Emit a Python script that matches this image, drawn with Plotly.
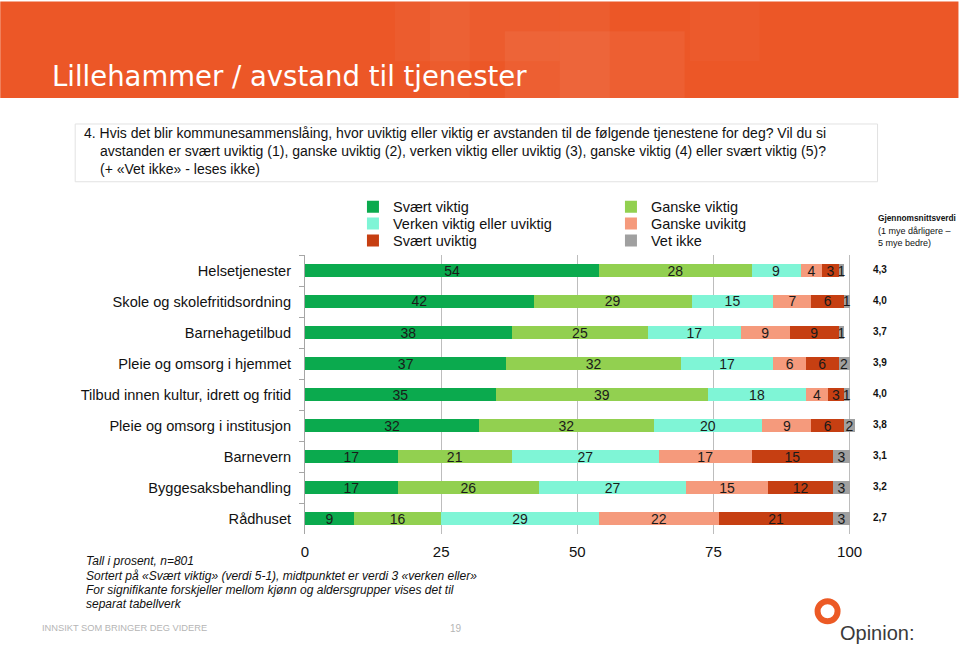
import plotly.graph_objects as go

categories = [
    "Helsetjenester",
    "Skole og skolefritidsordning",
    "Barnehagetilbud",
    "Pleie og omsorg i hjemmet",
    "Tilbud innen kultur, idrett og fritid",
    "Pleie og omsorg i institusjon",
    "Barnevern",
    "Byggesaksbehandling",
    "Rådhuset",
]
series_names = ["Svært viktig", "Ganske viktig", "Verken viktig eller uviktig",
                "Ganske uvikitg", "Svært uviktig", "Vet ikke"]
svaert_viktig = [54, 42, 38, 37, 35, 32, 17, 17, 9]
ganske_viktig = [28, 29, 25, 32, 39, 32, 21, 26, 16]
verken = [9, 15, 17, 17, 18, 20, 27, 27, 29]
ganske_uviktig = [4, 7, 9, 6, 4, 9, 17, 15, 22]
svaert_uviktig = [3, 6, 9, 6, 3, 6, 15, 12, 21]
vet_ikke = [1, 1, 1, 2, 1, 2, 3, 3, 3]
averages = ["4,3", "4,0", "3,7", "3,9", "4,0", "3,8", "3,1", "3,2", "2,7"]
x_ticks = [0, 25, 50, 75, 100]

colors = ["#0BAA4E", "#92D050", "#7FF5D6", "#F59A7C", "#C63F12", "#A0A0A0"]
series = [svaert_viktig, ganske_viktig, verken, ganske_uviktig, svaert_uviktig, vet_ikke]
legend_ids = ["legend", "legend", "legend2", "legend2", "legend3", "legend3"]

W, H = 959, 647
PL, PR100, PT, PB = 305, 850, 254.5, 534.5
XMAX = max(sum(v) for v in zip(*series))          # 101: lets the overflowing bar show
PR = PL + (PR100 - PL) * XMAX / 100.0


def px(x):
    return (x - PL) / (PR - PL)


def py(y):
    return (PB - y) / (PB - PT)


fig = go.Figure()
for name, vals, col, lg in zip(series_names, series, colors, legend_ids):
    fig.add_trace(go.Bar(
        y=categories, x=vals, name=name, orientation="h", legend=lg,
        marker=dict(color=col, line=dict(width=0)),
        text=[str(v) for v in vals], textposition="inside", textangle=0,
        insidetextanchor="middle",
        textfont=dict(family="Liberation Sans, Arial", size=14, color="#1a1a1a"),
        cliponaxis=False,
    ))

shapes = []
shapes.append(dict(type="rect", xref="paper", yref="paper",
                   x0=px(0), x1=px(W), y0=py(97), y1=py(0),
                   fillcolor="#EC5727", line=dict(width=0), layer="below"))
for (x0, x1, y0, y1, a) in [(395, 560, 0, 60, 0.035), (430, 470, 0, 97, 0.03),
                            (505, 685, 30, 97, 0.05), (560, 610, 0, 97, 0.04),
                            (690, 760, 0, 60, 0.025)]:
    shapes.append(dict(type="rect", xref="paper", yref="paper",
                       x0=px(x0), x1=px(x1), y0=py(y1), y1=py(y0),
                       fillcolor=f"rgba(255,255,255,{a})", line=dict(width=0), layer="below"))
shapes.append(dict(type="rect", xref="paper", yref="paper",
                   x0=px(75), x1=px(878), y0=py(181), y1=py(123),
                   fillcolor="white", line=dict(color="#E2E2E2", width=1), layer="below"))
shapes.append(dict(type="circle", xref="paper", yref="paper",
                   x0=px(818), x1=px(838), y0=py(622), y1=py(602),
                   line=dict(color="#EC5A25", width=6)))

annotations = []
annotations.append(dict(text="Lillehammer / avstand til tjenester", x=px(50), y=py(75),
                        xref="paper", yref="paper", xanchor="left", yanchor="middle",
                        showarrow=False,
                        font=dict(family="DejaVu Sans", size=27.5, color="white")))
qfont = dict(family="Liberation Sans Narrow, Arial Narrow, Liberation Sans", size=14, color="#111")
qlines = [
    ("4. Hvis det blir kommunesammenslåing, hvor uviktig eller viktig er avstanden til de følgende tjenestene for deg? Vil du si", 82, 132),
    ("avstanden er svært uviktig (1), ganske uviktig (2), verken viktig eller uviktig (3), ganske viktig (4) eller svært viktig (5)?", 98, 150),
    ("(+ «Vet ikke» - leses ikke)", 98, 168),
]
for t, x, y in qlines:
    annotations.append(dict(text=t, x=px(x), y=py(y), xref="paper", yref="paper",
                            xanchor="left", yanchor="middle", showarrow=False, font=qfont))
annotations.append(dict(text="<b>Gjennomsnittsverdi</b>", x=px(876), y=py(217), xref="paper", yref="paper",
                        xanchor="left", yanchor="middle", showarrow=False,
                        font=dict(family="Liberation Sans, Arial", size=8.3, color="#111")))
annotations.append(dict(text="(1 mye dårligere –", x=px(876), y=py(230), xref="paper", yref="paper",
                        xanchor="left", yanchor="middle", showarrow=False,
                        font=dict(family="Liberation Sans, Arial", size=9, color="#111")))
annotations.append(dict(text="5 mye bedre)", x=px(876), y=py(242), xref="paper", yref="paper",
                        xanchor="left", yanchor="middle", showarrow=False,
                        font=dict(family="Liberation Sans, Arial", size=9, color="#111")))
for cat, avg in zip(categories, averages):
    annotations.append(dict(text=f"<b>{avg}</b>", x=px(871), y=cat, xref="paper", yref="y",
                            xanchor="left", yanchor="middle", yshift=1, showarrow=False,
                            font=dict(family="Liberation Sans, Arial", size=10, color="#111")))
notes = [
    ("Tall i prosent, n=801", 562),
    ("Sortert på «Svært viktig» (verdi 5-1), midtpunktet er verdi 3 «verken eller»", 577),
    ("For signifikante forskjeller mellom kjønn og aldersgrupper vises det til", 591),
    ("separat tabellverk", 605),
]
for t, y in notes:
    annotations.append(dict(text=f"<i>{t}</i>", x=px(84), y=py(y), xref="paper", yref="paper",
                            xanchor="left", yanchor="middle", showarrow=False,
                            font=dict(family="Liberation Sans, Arial", size=12, color="#111")))
annotations.append(dict(text="INNSIKT SOM BRINGER DEG VIDERE", x=px(40), y=py(629), xref="paper", yref="paper",
                        xanchor="left", yanchor="middle", showarrow=False,
                        font=dict(family="Liberation Sans, Arial", size=9.3, color="#B5B5B5")))
annotations.append(dict(text="19", x=px(456), y=py(629), xref="paper", yref="paper",
                        xanchor="center", yanchor="middle", showarrow=False,
                        font=dict(family="Liberation Sans, Arial", size=10, color="#B5B5B5")))
annotations.append(dict(text="Opinion:", x=px(838), y=py(634), xref="paper", yref="paper",
                        xanchor="left", yanchor="middle", showarrow=False,
                        font=dict(family="Liberation Sans, Arial", size=20, color="#3A3A3A")))

lfont = dict(family="Liberation Sans, Arial", size=14.5, color="#111")


def legend_row(top):
    return dict(orientation="h", x=px(353), y=py(top), xanchor="left", yanchor="top",
                entrywidth=213, entrywidthmode="pixels", traceorder="normal",
                font=lfont, bgcolor="rgba(0,0,0,0)", itemclick=False, itemdoubleclick=False)


fig.update_layout(
    width=W, height=H,
    margin=dict(l=PL, r=W - PR, t=PT, b=H - PB, pad=0),
    barmode="stack", bargap=0.57,
    paper_bgcolor="white", plot_bgcolor="white",
    shapes=shapes, annotations=annotations,
    uniformtext=dict(mode="show", minsize=14),
    showlegend=True,
    legend=legend_row(190),
    legend2=legend_row(207),
    legend3=legend_row(224),
    xaxis=dict(range=[0, XMAX], tickvals=x_ticks, ticktext=[str(v) for v in x_ticks],
               showgrid=True, gridcolor="#BDBDBD", gridwidth=1, zeroline=False,
               showline=False, ticks="", ticklabelstandoff=7,
               tickfont=dict(family="Liberation Sans, Arial", size=15, color="#111")),
    yaxis=dict(categoryorder="array", categoryarray=categories, autorange="reversed",
               showline=True, linecolor="#A6A6A6", linewidth=1,
               ticks="outside", tickson="boundaries", ticklen=5, tickcolor="#A6A6A6",
               ticklabelstandoff=10, showgrid=False,
               tickfont=dict(family="Liberation Sans, Arial", size=14.6, color="#111")),
)

fig.write_html("out.html", config={"displayModeBar": False},
               post_script="document.body.style.margin='0';document.body.style.overflow='hidden';")
